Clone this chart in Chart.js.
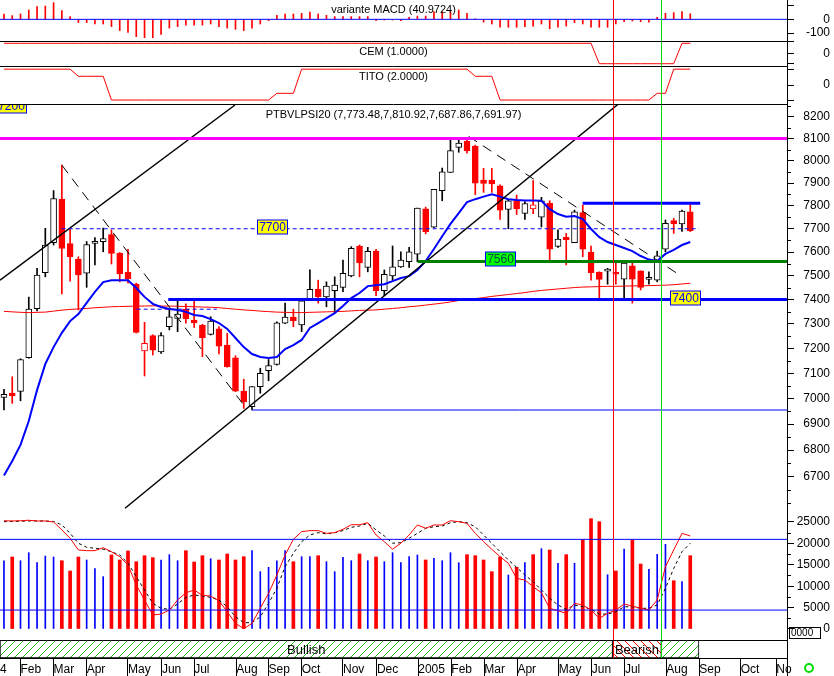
<!DOCTYPE html>
<html><head><meta charset="utf-8">
<script src="https://cdn.jsdelivr.net/npm/chart.js@4.4.1/dist/chart.umd.min.js"></script>
<style>
html,body{margin:0;padding:0;background:#fff;}
#wrap{position:relative;width:834px;height:676px;overflow:hidden;background:#fff;}
#wrap canvas{position:absolute;left:0;}
</style></head><body>
<div id="wrap">
<canvas id="cMacd" width="834" height="41" style="top:0px"></canvas>
<canvas id="cCem" width="834" height="25" style="top:41px"></canvas>
<canvas id="cTito" width="834" height="38" style="top:66px"></canvas>
<canvas id="cPrice" width="834" height="408" style="top:104px"></canvas>
<canvas id="cVol" width="834" height="128" style="top:512px"></canvas>
<canvas id="cBand" width="834" height="36" style="top:640px"></canvas>
</div>
<script>
// ================= DATA (weekly, Jan 2004 – Aug 2005) =================
const weekOpen = [7004,7021,7028,7162,7362,7512,7640,7829,7636,7570,
  7510,7637,7644,7675,7594,7515,7464,7190,7252,7186,
  7288,7322,7360,7315,7295,7257,7279,7213,7162,7029,
  6968,7047,7110,7135,7302,7327,7295,7401,7443,7411,
  7437,7451,7499,7626,7535,7604,7437,7499,7537,7559,
  7591,7787,7707,7866,7947,8060,8088,8066,7913,7913,
  7888,7784,7822,7767,7786,7750,7811,7624,7663,7640,
  7770,7600,7515,7519,7508,7485,7541,7520,7484,7481,
  7612,7735,7721,7773.48];
const weekHigh = [7036,7086,7158,7410,7531,7702,7867,7980,7697,7580,
  7645,7662,7703,7695,7598,7612,7468,7306,7255,7264,
  7357,7395,7382,7405,7298,7329,7288,7261,7170,7076,
  7047,7120,7155,7308,7385,7360,7405,7524,7481,7474,
  7495,7566,7623,7630,7620,7612,7524,7626,7601,7620,
  7790,7794,7872,7967,8093,8093,8096,8070,7966,7966,
  7892,7825,7847,7818,7911,7837,7822,7695,7680,7781,
  7803,7626,7516,7531,7553,7553,7553,7520,7516,7604,
  7738,7745,7781,7810.92];
const weekLow = [6955,6981,6991,7160,7353,7495,7630,7423,7477,7357,
  7451,7545,7601,7549,7474,7468,7262,7089,7173,7180,
  7275,7268,7302,7285,7166,7254,7177,7124,7027,6961,
  6955,7021,7070,7132,7300,7288,7268,7398,7385,7370,
  7345,7433,7495,7495,7516,7416,7416,7481,7535,7535,
  7559,7678,7705,7822,7947,8038,8034,7849,7859,7859,
  7741,7700,7762,7741,7766,7708,7566,7620,7545,7640,
  7580,7481,7398,7464,7464,7398,7385,7440,7464,7474,
  7601,7680,7688,7687.86];
const weekClose = [7016,7010,7155,7360,7502,7630,7832,7615,7580,7503,
  7632,7638,7658,7594,7507,7487,7265,7220,7193,7252,
  7329,7340,7321,7304,7243,7311,7209,7126,7029,6987,
  7047,7100,7131,7304,7327,7312,7395,7443,7411,7456,
  7460,7510,7616,7554,7603,7437,7506,7537,7566,7601,
  7790,7687,7872,7950,8045,8080,8045,7900,7898,7896,
  7781,7822,7786,7810,7804,7822,7612,7656,7653,7774,
  7612,7512,7484,7521,7506,7553,7485,7451,7486,7584,
  7724,7722,7777,7691.97];
const maShort = [6704,6759,6820,6912,7033,7137,7205,7263,7311,7340,
  7386,7432,7473,7481,7481,7481,7448,7411,7382,7369,
  7361,7357,7349,7336,7332,7319,7303,7279,7242,7205,
  7177,7165,7161,7165,7197,7213,7234,7283,7303,7323,
  7344,7373,7406,7427,7456,7460,7464,7477,7490,7498,
  7524,7562,7613,7668,7721,7768,7816,7829,7840,7851,
  7840,7829,7825,7823,7823,7822,7785,7764,7752,7755,
  7742,7699,7664,7643,7630,7617,7604,7583,7568,7562,
  7592,7609,7630,7643];
const maLong = [7351,7349,7347,7346,7347,7348,7352,7356,7359,7361,
  7363,7366,7368,7370,7371,7372,7373,7373,7374,7373,
  7373,7372,7371,7370,7369,7368,7366,7363,7360,7357,
  7355,7352,7350,7348,7347,7346,7346,7347,7348,7349,
  7350,7351,7353,7355,7356,7357,7360,7363,7366,7370,
  7373,7377,7381,7385,7390,7396,7400,7404,7408,7413,
  7417,7421,7425,7429,7434,7438,7441,7444,7447,7450,
  7452,7453,7454,7455,7455,7456,7457,7457,7458,7459,
  7460,7462,7465,7468];
const volume = [15950,16820,15950,17820,15490,17050,16820,15950,13550,16820,
  16120,14090,12220,17290,16120,18220,15720,17120,16660,16120,
  17360,15950,18290,15650,17120,16420,16120,17520,16120,16890,
  18290,13390,14410,15950,18290,15720,16890,16890,17120,15720,
  13390,16750,15950,17520,15950,16820,15720,17820,15490,16890,
  17290,16120,16520,15950,17820,15490,17360,17120,16120,13390,
  16820,12610,14410,15490,17360,18760,18450,15350,17360,15350,
  20790,25770,25070,12680,13550,18690,20790,15180,13950,17450,
  19790,11280,11050,17120];
const stochK = [95.8,95.6,95.8,96.2,95.6,95.6,94.7,88,80.9,71,
  70.4,70.4,72.9,69.5,65.3,58.2,41.3,28.5,15.8,16.6,
  20,28.5,34.7,37,32.5,31.9,27.9,18.6,8.7,4.2,
  8.7,21.5,34.2,49.7,66.7,80,86.5,87.4,87.4,85.1,
  85.7,88.5,92.4,92.4,94.1,83.7,78,71.6,76.7,83.7,
  92.2,89.4,92.2,92.2,95.8,95,93.6,85.1,78,71.6,
  65.3,59.7,46.9,45.5,39.8,34.7,21.5,19.4,17.2,25.7,
  24.3,20,13,17.2,20,25.1,23.4,21.5,20,28.5,
  56.8,71,85.1,82.9];
const stochD = [95,95.2,95.4,95.6,95.6,95.5,95.2,92.2,85.1,76.7,
  73.3,72.4,71.6,69.5,66.7,59.7,48.3,37,25.7,21.5,
  20.6,25.1,30.8,32.8,31.9,30.8,28.5,22.8,14.3,9.3,
  9.3,14.3,25.7,38.5,56.8,68.2,78,83.7,85.7,84.6,
  85.7,87.4,90.2,91.3,93.6,88,82.9,76.7,77.2,80.9,
  85.1,89.4,90.7,91.3,94.1,95,94.1,90.7,83.7,76.7,
  69.5,62.5,56.3,49.7,44.1,37,30,24.3,20.6,24.3,
  22.8,20.6,16.6,16.6,18.6,22.8,22.8,21.5,21.5,24.3,
  38.5,55.4,69.5,76.7];
const stochLevels = [80, 20];
const macdHist = [39,27,39,68,93,97,122,64,20,-24,
  -24,-34,-34,-53,-82,-95,-126,-134,-134,-110,
  -64,-53,-42,-42,-42,-34,-53,-64,-73,-82,
  -64,-34,-10,29,39,39,44,53,39,29,
  20,20,20,20,20,-10,-5,-5,-10,15,
  24,24,56,56,56,68,44,2,-20,-34,
  -58,-58,-58,-53,-49,-34,-68,-58,-49,-24,
  -34,-58,-58,-58,-34,-17,-12,-17,-20,15,
  44,49,56,40.9724];
const cemVals = [1,1,1,1,1,1,1,1,1,1,
  1,1,1,1,1,1,1,1,1,1,
  1,1,1,1,1,1,1,1,1,1,
  1,1,1,1,1,1,1,1,1,1,
  1,1,1,1,1,1,1,1,1,1,
  1,1,1,1,1,1,1,1,1,1,
  1,1,1,1,1,1,1,1,1,1,
  1,1,-1,-1,-1,-1,-1,-1,-1,-1,
  -1,-1,1,1];
const titoVals = [2,2,2,2,2,2,2,2,2,1.1,
  1.1,1.1,1.1,-1.9,-1.9,-1.9,-1.9,-1.9,-1.9,-1.9,
  -1.9,-1.9,-1.9,-1.9,-1.9,-1.9,-1.9,-1.9,-1.9,-1.9,
  -1.9,-1.9,-1.9,-1.05,-1.05,-1.05,2,2,2,2,
  2,2,2,2,2,2,2,2,2,2,
  2,2,2,2,2,2,2,1.1,1.1,1.1,
  -1.9,-1.9,-1.9,-1.9,-1.9,-1.9,-1.9,-1.9,-1.9,-1.9,
  -1.9,-1.9,-1.9,-1.9,-1.9,-1.9,-1.9,-1.9,-1.9,-1.05,
  -1.05,2,2,2];
// month boundaries (in week units) and their labels
const monthTickPos = [-0.48,2.0,6.0,10.0,15.0,19.1,23.0,28.1,32.0,36.0,41.0,45.1,50.1,54.1,58.1,62.1,67.1,71.1,75.1,80.1,84.1,89.1,93.4];
const monthLabels = ['4','Feb','Mar','Apr','May','Jun','Jul','Aug','Sep','Oct','Nov','Dec','2005','Feb','Mar','Apr','May','Jun','Jul','Aug','Sep','Oct','No'];
// axis ticks
const priceTicks = [8200,8100,8000,7900,7800,7700,7600,7500,7400,7300,7200,7100,7000,6900,6800,6700];
const priceMinorTicks = [8250,8150,8050,7950,7850,7750,7650,7550,7450,7350,7250,7150,7050,6950,6850,6750,6650,6600];
const volTicks = [25000,20000,15000,10000,5000,0];
const volMinorTicks = [22500,17500,12500,7500,2500];
const macdTicks = [100,0,-100];
// signals (week position) and regimes
const signalWeek = [73.6, 79.5];
const signalKind = ['sell','buy'];
const regimeStart = [-0.48, 73.6, 79.5];
const regimeEnd = [73.6, 79.5, 84.05];
const regimeKind = ['bull','bear','bull'];
const regimeText = ['Bullish','Bearish',''];
// horizontal levels drawn on price panel
const levelValue = [8100, 7810.92, 7700, 7560, 7400, 7360, 6955];
const levelFrom  = [-0.48, 69.99, 6.98, 50.04, 19.87, 16.05, 30.03];
const levelTo    = [94.7, 84.2, 84.05, 94.7, 94.7, 25.73, 94.7];
const levelKind  = ['magenta','blueThick','blueDash','green','blueThick','blueDash','blueThin'];
// trend lines: [week, price] endpoints
const trendA = [[-0.48, 7481], [27.94, 8254]];
const trendB = [[14.64, 6581.6], [74.31, 8258.7]];
const trendC = [[7.0, 7980], [29.15, 6968]];
const trendD = [[56.2, 8110], [81.52, 7507]];
const trendKind = ['solid','solid','dash','dash'];
// price tags
const tagText  = ['7700','7560','7400','7200'];
const tagWeek  = [30.64, 58.18, 80.55, -0.96];
const tagValue = [7700, 7560, 7400, 8240];
const tagKind  = ['yellow','green','yellow','yellow'];

// ================= STYLE =================
const FONT = "'Liberation Sans', Arial, Helvetica, sans-serif";
const X_MIN = -0.48, X_MAX = 94.7;
const RED = '#ff0000', BLUE = '#0000ff', BLACK = '#000000';
const SIGNAL_COLOR = { sell: '#ff0000', buy: '#00dd00' };
const LEVEL_STYLE = {
  magenta:   { color: '#ff00ff', width: 3, dash: [] },
  blueThick: { color: '#0000ff', width: 3, dash: [] },
  blueDash:  { color: '#0000ff', width: 1, dash: [4, 3] },
  green:     { color: '#008000', width: 3, dash: [] },
  blueThin:  { color: '#0000ff', width: 1, dash: [] }
};
const TREND_STYLE = { solid: { width: 1.5, dash: [] }, dash: { width: 1, dash: [10, 7] } };
const TAG_STYLE = { yellow: { fill: '#ffff00', text: '#0000ff' }, green: { fill: '#00ff00', text: '#004848' } };
const AXIS_W = 43, RIGHT_PAD = 4;   // plot area right edge at 787, labels end at 830

Chart.defaults.font.family = FONT;
Chart.defaults.font.size = 12;
Chart.defaults.color = BLACK;

const weekIdx = weekClose.map((_, i) => i);
const isDown = weekClose.map((c, i) => i > 0 && c < weekClose[i - 1]);
const candleColor = i => isDown[i] ? RED : BLACK;

// ================= PLUGINS =================
const decor = {
  id: 'decor',
  afterDatasetsDraw(chart, args, o) {
    const { ctx, chartArea: a, scales } = chart;
    const xs = scales.x;
    ctx.save();
    if (o.tags) {
      ctx.save();
      ctx.beginPath(); ctx.rect(a.left, a.top, a.right - a.left, a.bottom - a.top); ctx.clip();
      const ys = scales.y;
      tagText.forEach((t, i) => {
        const st = TAG_STYLE[tagKind[i]];
        const left = Math.round(xs.getPixelForValue(tagWeek[i])) + 0.5;
        const cy = Math.round(ys.getPixelForValue(tagValue[i])) - 2;
        ctx.fillStyle = st.fill; ctx.strokeStyle = BLUE; ctx.lineWidth = 1;
        ctx.fillRect(left, cy - 7, 30, 14); ctx.strokeRect(left, cy - 7, 30, 14);
        ctx.fillStyle = st.text; ctx.font = '12px ' + FONT; ctx.textAlign = 'center'; ctx.textBaseline = 'middle';
        ctx.fillText(t, left + 15, cy + 1);
      });
      ctx.restore();
    }
    if (o.minor) {
      const ys = scales.y;
      ctx.strokeStyle = BLACK; ctx.lineWidth = 1;
      o.minor.forEach(v => {
        const py = Math.round(ys.getPixelForValue(v)) + 0.5;
        if (py < a.top || py > a.bottom) return;
        ctx.beginPath(); ctx.moveTo(a.right, py); ctx.lineTo(a.right + 4, py); ctx.stroke();
      });
    }
    signalWeek.forEach((w, i) => {
      const px = Math.round(xs.getPixelForValue(w)) + 0.5;
      ctx.strokeStyle = SIGNAL_COLOR[signalKind[i]]; ctx.lineWidth = 1;
      ctx.beginPath(); ctx.moveTo(px, a.top); ctx.lineTo(px, a.bottom); ctx.stroke();
    });
    if (o.topLine) {
      ctx.strokeStyle = BLACK; ctx.lineWidth = 1;
      ctx.beginPath(); ctx.moveTo(0, a.top + 0.5); ctx.lineTo(a.right, a.top + 0.5); ctx.stroke();
    }
    if (o.rightLine) {
      ctx.strokeStyle = BLACK; ctx.lineWidth = 1;
      ctx.beginPath(); ctx.moveTo(a.right + 0.5, 0); ctx.lineTo(a.right + 0.5, chart.height); ctx.stroke();
    }
    if (o.title) {
      ctx.fillStyle = BLACK; ctx.font = '11px ' + FONT; ctx.textAlign = 'center'; ctx.textBaseline = 'middle';
      ctx.fillText(o.title, (a.left + a.right) / 2, a.top + o.titleDy);
    }
    if (o.bandText) {
      const meta = chart.getDatasetMeta(0);
      ctx.fillStyle = BLACK; ctx.font = '13px ' + FONT; ctx.textAlign = 'center'; ctx.textBaseline = 'middle';
      meta.data.forEach((el, i) => {
        if (!regimeText[i]) return;
        ctx.fillText(regimeText[i], (el.x + el.base) / 2, el.y + 1);
      });
      ctx.strokeStyle = '#00dd00'; ctx.lineWidth = 2;
      ctx.beginPath(); ctx.arc(a.right + 22, a.bottom + 10, 4, 0, Math.PI * 2); ctx.stroke();
    }
    if (o.zeroBox) {
      const ys = scales.y;
      const py = Math.round(ys.getPixelForValue(0));
      ctx.strokeStyle = BLACK; ctx.lineWidth = 1;
      ctx.strokeRect(a.right + 2.5, py - 1.5, 31, 11);
      ctx.fillStyle = BLACK; ctx.font = '10px ' + FONT; ctx.textAlign = 'left'; ctx.textBaseline = 'middle';
      ctx.fillText('0000', a.right + 4, py + 4);
    }
    ctx.restore();
  }
};

function xHidden() { return { type: 'linear', min: X_MIN, max: X_MAX, display: false, offset: false }; }
function rightAxis(type, min, max, tickVals, labelFn) {
  return {
    type, position: 'right', min, max,
    afterBuildTicks(s) { s.ticks = tickVals.map(v => ({ value: v })); },
    afterFit(s) { s.width = AXIS_W; s.paddingTop = 0; s.paddingBottom = 0; },
    grid: { drawOnChartArea: false, drawTicks: true, tickLength: 7, color: BLACK, tickColor: BLACK, tickWidth: 1 },
    border: { display: true, color: BLACK, width: 1 },
    ticks: { autoSkip: false, crossAlign: 'far', padding: 3, color: BLACK, font: { size: 12, family: FONT }, callback: v => labelFn(v) }
  };
}
function baseOptions(scales, decorOpts) {
  return {
    responsive: false, animation: false, devicePixelRatio: 1, events: [],
    layout: { padding: { left: 0, top: 0, bottom: 0, right: RIGHT_PAD } },
    plugins: { legend: { display: false }, tooltip: { enabled: false }, decor: decorOpts },
    scales
  };
}
function hLine(v, from, to, color, width, dash, axis) {
  return { type: 'line', data: [{ x: from, y: v }, { x: to, y: v }], borderColor: color, borderWidth: width,
    borderDash: dash, pointRadius: 0, yAxisID: axis || 'y', order: 0 };
}
function seriesLine(vals, color, width, dash, axis, order) {
  return { type: 'line', data: weekIdx.map(i => ({ x: i, y: vals[i] })), borderColor: color, borderWidth: width,
    borderDash: dash || [], pointRadius: 0, tension: 0, yAxisID: axis || 'y', order: order === undefined ? 0 : order };
}

// ================= MACD =================
new Chart(document.getElementById('cMacd'), {
  type: 'bar',
  data: { datasets: [
    hLine(0, X_MIN, X_MAX, BLUE, 1, []),
    { type: 'bar', data: weekIdx.map(i => ({ x: i, y: macdHist[i] })), backgroundColor: RED, barThickness: 1, grouped: false, order: 2 }
  ] },
  options: baseOptions({
    x: xHidden(),
    y: rightAxis('linear', -158, 141, macdTicks, v => v === 100 ? '' : String(v))
  }, { title: 'variante MACD (' + macdHist[macdHist.length - 1].toFixed(4) + ')', titleDy: 10 }),
  plugins: [decor]
});

// ================= CEM =================
new Chart(document.getElementById('cCem'), {
  type: 'line',
  data: { datasets: [ seriesLine(cemVals, RED, 1) ] },
  options: baseOptions({
    x: xHidden(),
    y: rightAxis('linear', -1.225, 1.225, [1.2, 0, -1], v => v === 0 ? '0' : '')
  }, { title: 'CEM (' + cemVals[cemVals.length - 1].toFixed(4) + ')', titleDy: 10.7, topLine: true }),
  plugins: [decor]
});

// ================= TITO =================
new Chart(document.getElementById('cTito'), {
  type: 'line',
  data: { datasets: [ seriesLine(titoVals, RED, 1) ] },
  options: baseOptions({
    x: xHidden(),
    y: rightAxis('linear', -2.4, 2.4, [1.9, 0, -1.9], v => v === 0 ? '0' : '')
  }, { title: 'TITO (' + titoVals[titoVals.length - 1].toFixed(4) + ')', titleDy: 10.7, topLine: true }),
  plugins: [decor]
});

// ================= PRICE =================
const fmt = v => v.toLocaleString('en-US', { minimumFractionDigits: 2, maximumFractionDigits: 2 });
const L = weekClose.length - 1;
const priceTitle = 'PTBVLPSI20 (' + [weekOpen[L], weekHigh[L], weekLow[L], weekClose[L]].map(fmt).join(',') + ')';
const priceDatasets = [];
levelValue.forEach((v, i) => {
  const st = LEVEL_STYLE[levelKind[i]];
  priceDatasets.push(hLine(v, levelFrom[i], levelTo[i], st.color, st.width, st.dash));
});
[trendA, trendB, trendC, trendD].forEach((t, i) => {
  const st = TREND_STYLE[trendKind[i]];
  priceDatasets.push({ type: 'line', data: t.map(p => ({ x: p[0], y: p[1] })), borderColor: BLACK, borderWidth: st.width,
    borderDash: st.dash, pointRadius: 0, order: 0 });
});
priceDatasets.push(seriesLine(maShort, BLUE, 2, [], 'y', 1));
priceDatasets.push(seriesLine(maLong, RED, 1, [], 'y', 1));
priceDatasets.push({ type: 'bar', data: weekIdx.map(i => ({ x: i, y: [weekOpen[i], weekClose[i]] })),
  backgroundColor: c => weekClose[c.dataIndex] >= weekOpen[c.dataIndex] ? '#ffffff' : candleColor(c.dataIndex),
  borderColor: c => candleColor(c.dataIndex), borderWidth: 1, borderSkipped: false,
  barThickness: 6, minBarLength: 2, grouped: false, order: 4 });
priceDatasets.push({ type: 'bar', data: weekIdx.map(i => ({ x: i, y: [weekLow[i], weekHigh[i]] })),
  backgroundColor: c => candleColor(c.dataIndex), borderWidth: 0, barThickness: 1, grouped: false, order: 5 });

new Chart(document.getElementById('cPrice'), {
  type: 'bar',
  data: { datasets: priceDatasets },
  options: baseOptions({
    x: xHidden(),
    y: rightAxis('logarithmic', 6567.9, 8258.7, priceTicks, v => String(v))
  }, { title: priceTitle, titleDy: 11, topLine: true, tags: true, minor: priceMinorTicks }),
  plugins: [decor]
});

// ================= VOLUME + STOCHASTIC =================
const volDatasets = [];
stochLevels.forEach(v => volDatasets.push(hLine(v, X_MIN, X_MAX, BLUE, 1, [], 'ys')));
volDatasets.push(seriesLine(stochK, RED, 1, [], 'ys', 0));
volDatasets.push(seriesLine(stochD, BLACK, 1, [3, 3], 'ys', 0));
volDatasets.push({ type: 'bar', data: weekIdx.filter(i => isDown[i]).map(i => ({ x: i, y: volume[i] })),
  backgroundColor: RED, barThickness: 3, grouped: false, order: 3 });
volDatasets.push({ type: 'bar', data: weekIdx.filter(i => !isDown[i]).map(i => ({ x: i, y: volume[i] })),
  backgroundColor: BLUE, barThickness: 1, grouped: false, order: 3 });

new Chart(document.getElementById('cVol'), {
  type: 'bar',
  data: { datasets: volDatasets },
  options: baseOptions({
    x: xHidden(),
    y: rightAxis('linear', -2570, 27331, volTicks, v => String(v)),
    ys: { type: 'linear', display: false, min: -5.4, max: 103.2 }
  }, { minor: volMinorTicks, zeroBox: true }),
  plugins: [decor]
});

// ================= REGIME BAND + TIME AXIS =================
const bandCtx = document.getElementById('cBand').getContext('2d');
function hatch(color, up) {
  const c = document.createElement('canvas'); c.width = 8; c.height = 8;
  const g = c.getContext('2d');
  g.fillStyle = '#fff'; g.fillRect(0, 0, 8, 8);
  g.strokeStyle = color; g.lineWidth = 1;
  g.beginPath();
  if (up) { g.moveTo(0, 8); g.lineTo(8, 0); g.moveTo(-1, 1); g.lineTo(1, -1); g.moveTo(7, 9); g.lineTo(9, 7); }
  else { g.moveTo(0, 0); g.lineTo(8, 8); g.moveTo(-1, 7); g.lineTo(1, 9); g.moveTo(7, -1); g.lineTo(9, 1); }
  g.stroke();
  return bandCtx.createPattern(c, 'repeat');
}
const PATTERN = { bull: hatch('#22bb22', true), bear: hatch('#ff0000', false) };

new Chart(bandCtx, {
  type: 'bar',
  data: {
    labels: ['band'],
    datasets: [{
      data: regimeStart.map((s, i) => ({ x: [s, regimeEnd[i]], y: 'band' })),
      backgroundColor: c => PATTERN[regimeKind[c.dataIndex]],
      borderColor: BLACK, borderWidth: 1, borderSkipped: false,
      barPercentage: 1, categoryPercentage: 1, grouped: false
    }]
  },
  options: Object.assign(baseOptions({
    y: { type: 'category', display: false },
    x: {
      type: 'linear', position: 'bottom', min: X_MIN, max: X_MAX, offset: false,
      afterBuildTicks(s) { s.ticks = monthTickPos.map(v => ({ value: v })); },
      afterFit(s) { s.height = 18; s.paddingLeft = 0; s.paddingRight = 0; },
      grid: { drawOnChartArea: false, drawTicks: true, tickLength: 18,
        tickColor: c => c.index === 0 ? 'rgba(0,0,0,0)' : BLACK, color: BLACK },
      border: { display: true, color: BLACK, width: 1 },
      ticks: { autoSkip: false, maxRotation: 0, align: 'start', padding: -14, color: BLACK,
        font: { size: 12, family: FONT }, callback: (v, i) => monthLabels[i] }
    }
  }, { topLine: true, rightLine: true, bandText: true }), { indexAxis: 'y', layout: { padding: { left: 0, top: 0, bottom: 0, right: AXIS_W + RIGHT_PAD } } }),
  plugins: [decor]
});
</script>
</body></html>
